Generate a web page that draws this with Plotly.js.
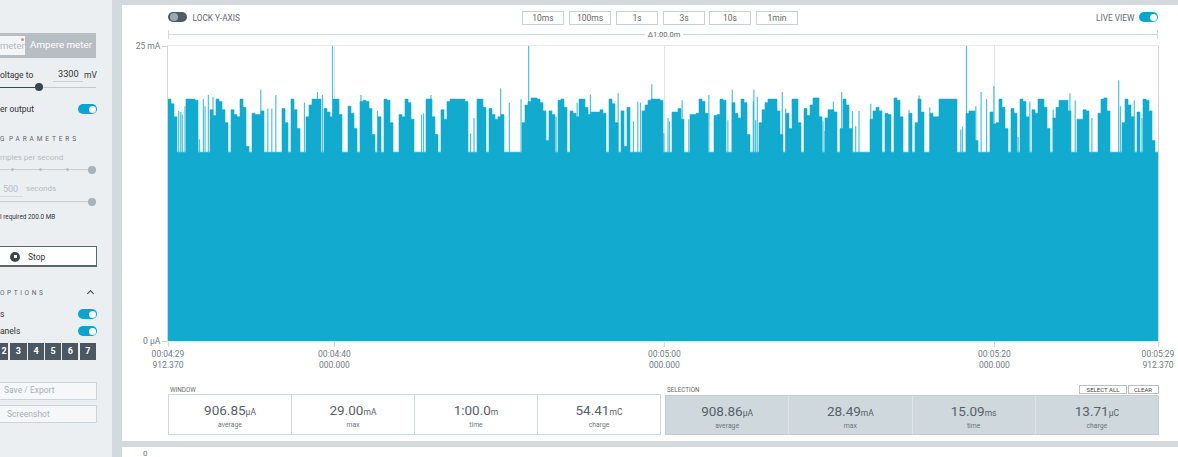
<!DOCTYPE html>
<html><head><meta charset="utf-8">
<script src="https://cdn.plot.ly/plotly-3.0.1.min.js"></script>
<style>
html,body{margin:0;padding:0;width:1178px;height:457px;overflow:hidden;background:#fff;font-family:Roboto,"Open Sans",sans-serif;}
.a{position:absolute;white-space:nowrap;}
.lbl{font-size:8.5px;color:#333;line-height:10px;}
.tog{position:absolute;width:19px;height:10px;border-radius:5px;background:#0aa5cf;}
.tog::after{content:"";position:absolute;top:1.5px;right:1.5px;width:7px;height:7px;border-radius:50%;background:#fff;}
.btn{position:absolute;top:11px;width:40px;height:12px;border:1px solid #c9cfd4;background:#fff;font-size:8.5px;color:#666;text-align:center;line-height:12px;}
.cap{font-size:6.5px;letter-spacing:2.9px;color:#5c6670;line-height:8px;}
.dig{position:absolute;top:343px;height:17px;background:#4b5862;color:#fff;font-size:9px;font-weight:bold;text-align:center;line-height:17px;}
.sbox{position:absolute;box-sizing:border-box;display:flex;}
.cell{flex:1;text-align:center;box-sizing:border-box;}
.val{font-size:13.5px;color:#56616b;margin-top:7px;line-height:16px;}
.val span{font-size:8.5px;}
.sub{font-size:6.8px;color:#6b7580;line-height:9px;margin-top:1px;}
</style></head><body>
<!-- frame -->
<div class="a" style="left:0;top:0;width:112px;height:457px;background:#eceff2"></div>
<div class="a" style="left:112px;top:0;width:10px;height:457px;background:#d2d9df"></div>
<div class="a" style="left:122px;top:0;width:1056px;height:5px;background:#d2d9df"></div>
<div class="a" style="left:122px;top:441px;width:1056px;height:6px;background:#d2d9df"></div>
<div class="a" style="left:143px;top:449.5px;font-size:8px;line-height:7px;color:#777">0</div>

<!-- sidebar -->
<div class="a" style="left:0;top:33px;width:96px;height:25px;background:#b6bdc3"></div>
<div class="a" style="left:0;top:36px;width:25px;height:19px;background:#f4f5f6;"></div>
<div class="a" style="left:0;top:41px;font-size:9.5px;color:#b3bbc1;line-height:10px">meter</div>
<div class="a" style="left:20.5px;top:38px;width:3px;height:3px;border-radius:50%;background:#ef8a80"></div>
<div class="a" style="left:30px;top:40px;font-size:9.8px;color:#fff;line-height:10px">Ampere meter</div>

<div class="a lbl" style="left:0;top:70px">oltage to</div>
<div class="a" style="left:58px;top:69px;font-size:9.2px;color:#333;line-height:10px">3300</div>
<div class="a" style="left:53px;top:80.5px;width:30px;height:1px;background:#c8ced3"></div>
<div class="a lbl" style="left:84px;top:70px">mV</div>
<div class="a" style="left:0;top:86.5px;width:39px;height:1.5px;background:#37474f"></div>
<div class="a" style="left:39px;top:86.8px;width:57px;height:1px;background:#c3cacf"></div>
<div class="a" style="left:35.3px;top:83.3px;width:8px;height:8px;border-radius:50%;background:#37474f"></div>

<div class="a lbl" style="left:0;top:104px">er output</div>
<div class="tog" style="left:78px;top:104px"></div>

<div class="a cap" style="left:0;top:135px">G</div>
<div class="a cap" style="left:9px;top:135px">PARAMETERS</div>
<div class="a" style="left:0;top:153px;font-size:8px;color:#b4bcc3;line-height:10px">mples per second</div>
<div class="a" style="left:0;top:169px;width:92px;height:1px;background:#c8cfd4"></div>
<div class="a" style="left:11.2px;top:168px;width:3px;height:3px;border-radius:50%;background:#b8c0c6"></div>
<div class="a" style="left:38.5px;top:168px;width:3px;height:3px;border-radius:50%;background:#b8c0c6"></div>
<div class="a" style="left:65.8px;top:168px;width:3px;height:3px;border-radius:50%;background:#b8c0c6"></div>
<div class="a" style="left:88.3px;top:165.5px;width:8px;height:8px;border-radius:50%;background:#a9b2b8"></div>
<div class="a" style="left:3px;top:184px;font-size:9px;color:#b4bcc3;line-height:10px">500</div>
<div class="a" style="left:0;top:196px;width:23px;height:1px;background:#d3d8dc"></div>
<div class="a" style="left:26px;top:184px;font-size:8px;color:#b4bcc3;line-height:10px">seconds</div>
<div class="a" style="left:0;top:201px;width:92px;height:1px;background:#c8cfd4"></div>
<div class="a" style="left:88.3px;top:197.7px;width:8px;height:8px;border-radius:50%;background:#a9b2b8"></div>
<div class="a" style="left:0;top:213px;font-size:6.4px;color:#333;line-height:8px">l required 200.0 MB</div>

<div class="a" style="left:-4px;top:246px;width:99px;height:18px;border:1px solid #5b6770;border-bottom:2px solid #5b6770;background:#fff"></div>
<div class="a" style="left:10px;top:251.7px;width:10px;height:10px;border-radius:50%;background:#37474f"></div>
<div class="a" style="left:13.5px;top:255.2px;width:3px;height:3px;background:#fff"></div>
<div class="a" style="left:28px;top:252px;font-size:8.5px;color:#333;line-height:10px">Stop</div>

<div class="a cap" style="left:0;top:289px;letter-spacing:2.6px">OPTIONS</div>
<div class="a" style="left:88px;top:291px;width:4px;height:4px;border-left:1.3px solid #444;border-top:1.3px solid #444;transform:rotate(45deg)"></div>
<div class="a lbl" style="left:0;top:308.5px">s</div>
<div class="tog" style="left:78px;top:309px"></div>
<div class="a lbl" style="left:0;top:326px">anels</div>
<div class="tog" style="left:78px;top:326px"></div>
<div class="dig" style="left:0;width:8.3px">2</div>
<div class="dig" style="left:10px;width:16.7px">3</div>
<div class="dig" style="left:28.3px;width:15.7px">4</div>
<div class="dig" style="left:45.3px;width:15.4px">5</div>
<div class="dig" style="left:62.3px;width:16px">6</div>
<div class="dig" style="left:79.5px;width:16.5px">7</div>

<div class="a" style="left:-10px;top:381.5px;width:105px;height:16px;border:1px solid #cdd4d9;background:#f5f7f8"></div>
<div class="a" style="left:4px;top:385px;font-size:8.5px;color:#a9b2b9;line-height:10px">Save / Export</div>
<div class="a" style="left:-10px;top:405px;width:105px;height:16px;border:1px solid #cdd4d9;background:#f5f7f8"></div>
<div class="a" style="left:7px;top:408.5px;font-size:8.5px;color:#a9b2b9;line-height:10px">Screenshot</div>

<!-- toolbar -->
<div class="a" style="left:168px;top:12px;width:19px;height:10px;border-radius:5px;background:#4f5b65"></div>
<div class="a" style="left:169.5px;top:13px;width:8px;height:8px;border-radius:50%;background:#9ea8b0"></div>
<div class="a" style="left:192.5px;top:12.5px;font-size:8.3px;color:#5f6a73;line-height:10px">LOCK Y-AXIS</div>
<div id="zoomBtns"></div>
<div class="a" style="left:1096px;top:12.5px;font-size:8.3px;color:#5f6a73;line-height:10px">LIVE VIEW</div>
<div class="tog" style="left:1139px;top:12px"></div>

<!-- delta line -->
<div class="a" style="left:168px;top:34px;width:990px;height:1px;background:#d3d9de"></div>
<div class="a" style="left:168px;top:30px;width:1px;height:9px;background:#d3d9de"></div>
<div class="a" style="left:1157px;top:30px;width:1px;height:9px;background:#d3d9de"></div>
<div class="a" style="left:645px;top:30px;width:38px;text-align:center;background:#fff;font-size:7.5px;color:#666;line-height:9px">Δ1:00.0m</div>

<div id="chart" class="a" style="left:0;top:0;width:1178px;height:457px;"></div>

<!-- stats -->
<div class="a" style="left:170px;top:385.5px;font-size:6.3px;color:#666;line-height:8px">WINDOW</div>
<div class="a" style="left:667px;top:385.5px;font-size:6.3px;color:#666;line-height:8px">SELECTION</div>
<div class="a" style="left:1079px;top:384.5px;width:46px;height:7px;border:1px solid #b8c0c6;background:#fff;font-size:6px;color:#444;text-align:center;line-height:7px">SELECT ALL</div>
<div class="a" style="left:1127.5px;top:384.5px;width:29px;height:7px;border:1px solid #b8c0c6;background:#fff;font-size:6px;color:#444;text-align:center;line-height:7px">CLEAR</div>
<div id="winBox" class="sbox" style="left:168px;top:394px;width:493px;height:41px;border:1px solid #cfd6dc;background:#fff"></div>
<div id="selBox" class="sbox" style="left:665px;top:394.5px;width:494px;height:40px;border:1px solid #c4ccd1;background:#cfd8dc"></div>

<script>
// ---- data ----
const startTime_s = 269.91237;           // 00:04:29.912370
const windowLength_s = 60;
// upper envelope of the current trace, one value per equal time slot across the window (mA)
const burstTop_mA = [
20.5,20.1,19.0,16.0,16.0,16.0,20.5,20.5,20.5,20.4,
16.0,16.0,16.0,16.0,19.6,19.1,20.5,20.3,19.6,18.5,
16.0,19.6,19.2,19.0,20.5,19.8,16.5,16.0,19.3,19.2,
19.2,19.5,16.0,16.0,16.0,16.0,16.0,16.0,19.7,18.5,
16.0,20.5,19.6,18.0,16.0,16.0,19.0,20.0,20.5,20.5,
20.5,16.0,19.7,19.4,19.0,20.5,20.5,19.2,16.0,16.0,
19.9,19.3,18.0,16.0,20.3,20.4,20.3,19.7,17.5,16.0,
19.0,16.0,20.5,20.4,18.5,16.0,16.0,19.2,19.0,20.5,
20.2,18.8,16.0,16.0,16.0,16.0,20.5,20.5,19.0,17.5,
16.0,19.6,18.8,20.3,20.5,20.5,20.5,20.5,20.5,20.3,
16.0,16.0,16.0,20.5,20.5,19.8,16.0,19.7,19.2,18.8,
19.0,19.2,16.0,16.0,16.0,16.0,16.0,16.0,18.5,20.0,
20.3,20.6,20.6,20.5,20.2,19.5,17.0,19.5,19.2,16.0,
20.4,20.5,19.8,16.0,19.5,19.3,19.0,20.5,20.5,19.8,
19.2,19.4,19.4,19.4,19.6,19.3,16.0,20.5,20.1,18.5,
16.0,19.5,16.5,19.8,16.0,16.0,16.0,16.0,19.5,20.0,
20.4,20.5,20.5,20.5,20.4,16.0,16.0,16.0,19.4,19.4,
19.7,18.8,16.0,16.0,19.2,19.2,19.3,20.5,20.3,19.3,
16.0,16.0,19.1,19.2,20.5,20.4,16.0,16.0,20.2,19.3,
18.9,20.5,20.2,17.5,16.0,16.0,16.0,18.5,19.6,20.2,
20.5,20.5,20.5,19.5,17.5,16.0,19.3,18.0,20.5,20.5,
18.5,16.0,19.7,19.1,20.0,20.6,20.6,19.0,16.0,18.9,
19.6,19.6,19.4,16.0,18.0,20.5,20.0,18.0,16.0,16.0,
16.0,16.0,16.0,16.0,18.8,19.5,19.8,19.5,16.0,19.3,
19.2,16.0,20.6,20.4,19.0,16.0,16.0,19.3,16.0,18.5,
20.5,19.4,16.0,16.0,19.3,19.0,19.0,20.5,20.5,20.5,
20.5,20.5,20.5,16.0,16.0,16.0,19.3,19.5,19.5,17.0,
16.0,16.0,16.0,16.0,19.4,18.4,18.5,20.5,19.8,18.0,
16.0,19.7,19.3,16.0,20.5,20.3,19.0,16.0,19.6,19.3,
20.5,20.5,19.8,18.0,16.0,18.9,19.8,20.4,20.4,20.4,
19.5,16.0,16.0,18.8,18.8,19.6,19.5,16.0,16.0,16.0,
19.3,20.5,20.6,19.5,16.0,16.0,16.0,16.0,18.5,20.5,
20.0,19.0,16.0,19.4,16.0,20.5,20.4,19.5,17.0,16.0
];
const floor_mA = 16.0;
// isolated narrow spikes: offset from window start (s) and peak (mA)
const spikeOffset_s = [0.649,0.770,0.868,1.031,1.899,2.142,2.245,2.445,2.730,5.624,
6.049,6.291,6.534,8.269,9.058,9.361,9.968,11.691,12.698,15.367,
15.489,15.937,16.241,18.340,18.546,20.160,20.687,21.397,21.859,23.521,
24.795,25.602,27.282,28.210,28.471,28.635,29.321,30.049,30.303,30.394,
31.165,31.565,32.779,33.931,34.198,35.472,35.509,35.612,35.715,37.231,
37.432,39.695,39.816,40.325,40.829,41.478,41.678,41.879,42.589,44.912,
45.519,46.168,48.049,48.152,48.394,48.958,49.280,49.607,50.050,51.525,
52.234,53.648,54.661,54.983,55.996,56.403,57.615,57.725,58.562,59.029];
const spikePeak_mA = [19.5,19.4,19.2,19.9,17.1,20.5,19.9,20.85,20.7,21.3,
19.7,19.7,20.85,20.2,21.1,20.85,29.0,20.85,19.5,19.2,
19.3,20.85,17.5,17.6,18.9,21.4,20.2,20.5,28.0,19.0,
20.2,20.9,21.0,18.6,20.3,20.2,21.75,17.6,18.9,18.6,
20.4,18.8,20.85,18.7,21.3,20.3,21.3,18.7,20.7,21.1,
19.7,18.6,17.8,20.3,21.1,19.5,18.2,19.5,20.1,19.6,
20.8,19.8,17.9,18.2,27.5,19.9,21.1,20.5,21.6,17.3,
20.3,19.6,21.0,20.4,18.9,19.2,22.1,19.9,20.4,18.9];
const tickTimes_s = [269.91237, 280, 300, 320, 329.91237];
const tickClock = ['00:04:29','00:04:40','00:05:00','00:05:20','00:05:29'];
const tickMicro = ['912.370','000.000','000.000','000.000','912.370'];
const yTickVals = [0, 25];
const yTickText = ['0 µA', '25 mA'];
const zoomLabels = ['10ms','100ms','1s','3s','10s','1min'];
const statLabels = ['average','max','time','charge'];
const windowValues = ['906.85','29.00','1:00.0','54.41'];
const windowUnits = ['µA','mA','m','mC'];
const selectionValues = ['908.86','28.49','15.09','13.71'];
const selectionUnits = ['µA','mA','ms','µC'];

// ---- toolbar buttons ----
const btnLeft = [522,569,616,663,709,756];
document.getElementById('zoomBtns').innerHTML = zoomLabels.map((l,i)=>
  `<div class="btn" style="left:${btnLeft[i]}px">${l}</div>`).join('');

// ---- stats ----
function fill(id, vals, units, divider){
  document.getElementById(id).innerHTML = vals.map((v,i)=>
    `<div class="cell" style="${i? 'border-left:1px solid '+divider:''}"><div class="val">${v}<span>${units[i]}</span></div><div class="sub">${statLabels[i]}</div></div>`).join('');
}
fill('winBox', windowValues, windowUnits, '#cfd6dc');
fill('selBox', selectionValues, selectionUnits, '#dfe5e8');

// ---- chart ----
const n = burstTop_mA.length;
const step = windowLength_s / n;
const ex = [], ey = [];
for (let i = 0; i < n; i++) { ex.push(startTime_s + i*step); ey.push(burstTop_mA[i]); }
ex.push(startTime_s + windowLength_s); ey.push(burstTop_mA[n-1]);
const sx = [], sy = [];
spikeOffset_s.forEach((o,i)=>{ const t = startTime_s + o; sx.push(t,t,null); sy.push(floor_mA, spikePeak_mA[i], null); });

const traces = [
  {x: ex, y: ey, type:'scatter', mode:'lines', line:{shape:'hv', width:0.6, color:'#12abcf'},
   fill:'tozeroy', fillcolor:'#12abcf', hoverinfo:'skip'},
  {x: sx, y: sy, type:'scatter', mode:'lines', line:{width:1.2, color:'rgba(18,171,207,0.75)'}, hoverinfo:'skip', connectgaps:false}
];
const layout = {
  width:1178, height:457,
  margin:{l:168, r:20, t:46, b:116, pad:0},
  paper_bgcolor:'rgba(0,0,0,0)', plot_bgcolor:'#fff',
  showlegend:false,
  font:{family:'Roboto, sans-serif', size:8.5, color:'#6f7a84'},
  xaxis:{range:[startTime_s, startTime_s+windowLength_s], tickmode:'array', tickvals:tickTimes_s,
    ticktext: tickClock.map((c,i)=>c+'<br>'+tickMicro[i]),
    showgrid:true, gridcolor:'#e2e2e2', gridwidth:1, zeroline:false,
    showline:true, linecolor:'#e6e9ec', mirror:true,
    ticks:'outside', ticklen:5, tickcolor:'#d8d8d8',
    tickfont:{size:8.5, color:'#6f7a84'}, fixedrange:true},
  yaxis:{range:[0,25], tickmode:'array', tickvals:yTickVals, ticktext:yTickText,
    showgrid:false, zeroline:false, showline:true, linecolor:'#d4d4d4', mirror:true,
    ticks:'outside', ticklen:5, tickcolor:'#d0d0d0',
    tickfont:{size:8.5, color:'#6f7a84'}, fixedrange:true}
};
Plotly.newPlot('chart', traces, layout, {staticPlot:true, displayModeBar:false});
</script>
</body></html>
